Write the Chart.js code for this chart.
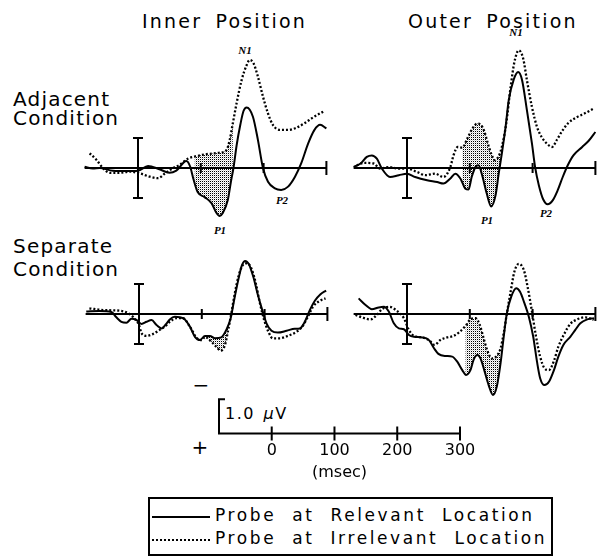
<!DOCTYPE html>
<html>
<head>
<meta charset="utf-8">
<script src="https://cdn.jsdelivr.net/npm/chart.js@4.4.0/dist/chart.umd.min.js"></script>
<style>
  html, body { margin: 0; padding: 0; background: #fff; }
  #page { position: relative; width: 602px; height: 558px; overflow: hidden;
          font-family: "DejaVu Sans", sans-serif; color: #000; }
  #page canvas, .txt { position: absolute; }
  .txt { line-height: 1; white-space: nowrap; }
  .title { font-size: 19px; letter-spacing: 2.2px; word-spacing: 5px; }
  .row { font-size: 20px; letter-spacing: 1.2px; }
  .peak { font-family: "Liberation Serif", serif; font-style: italic; font-weight: bold;
          font-size: 11px; transform: translate(-50%, -50%); }
  .sign { font-size: 20px; transform: translate(-50%, -50%); }
  #legend { position: absolute; left: 148px; top: 497px; width: 401px; height: 55px;
            border: 2px solid #000; }
  .legRow { position: absolute; left: 0; height: 20px; }
  .legLine { position: absolute; left: 2px; width: 58px; top: 9px; }
  .legText { position: absolute; left: 65px; top: 0; font-size: 17px; letter-spacing: 2.6px;
             word-spacing: 8px; line-height: 1; white-space: nowrap; }
</style>
</head>
<body>
<div id="page">
  <div class="txt title" style="left:142px;top:12px">Inner Position</div>
  <div class="txt title" style="left:408px;top:12px">Outer Position</div>
  <div class="txt row" style="left:13px;top:89px">Adjacent</div>
  <div class="txt row" style="left:13px;top:108px">Condition</div>
  <div class="txt row" style="left:13px;top:236px">Separate</div>
  <div class="txt row" style="left:13px;top:259px">Condition</div>

  <div class="txt peak" style="left:245px;top:50px">N1</div>
  <div class="txt peak" style="left:220px;top:230px">P1</div>
  <div class="txt peak" style="left:282px;top:200px">P2</div>
  <div class="txt peak" style="left:516px;top:32px">N1</div>
  <div class="txt peak" style="left:487px;top:220px">P1</div>
  <div class="txt peak" style="left:546px;top:213px">P2</div>

  <div class="txt sign" style="left:201px;top:385px">&minus;</div>
  <div class="txt sign" style="left:200px;top:447px">+</div>
  <div class="txt" style="left:225px;top:406px;font-size:16px;letter-spacing:1.5px;word-spacing:2px">1.0 <i>&micro;</i>V</div>

  <div id="legend">
    <div class="legRow" style="top:8px">
      <div class="legLine" style="border-top:2px solid #000"></div>
      <div class="legText">Probe at Relevant Location</div>
    </div>
    <div class="legRow" style="top:31px">
      <div class="legLine" style="border-top:2px dotted #000"></div>
      <div class="legText">Probe at Irrelevant Location</div>
    </div>
  </div>
</div>

<script>
// 波形数据 [时间(ms), 电压(µV)]，负值向上
const innerAdjacentRelevant = [[-85,-0.04],[-72,0.02],[-61,0],[-40,0.09],[-19,0.1],[0,0.09],[16,-0.07],[34,0.04],[50,0.16],[61,0.09],[77,-0.23],[83,-0.05],[88,0.35],[95,0.8],[106,0.97],[117,1.17],[125,1.5],[130,1.6],[135,1.5],[143,1.07],[148,0.45],[152,0],[157,-0.75],[163,-1.45],[168,-1.9],[173,-2.02],[183,-1.71],[191,-0.93],[199,0],[207,0.46],[218,0.68],[228,0.73],[239,0.62],[250,0.29],[260,-0.16],[271,-0.82],[281,-1.27],[290,-1.44],[300,-1.32]];
const innerAdjacentIrrelevant = [[-77,-0.49],[-66,-0.27],[-56,0],[-45,0.16],[-29,0.16],[-13,0.12],[3,0.18],[19,0.29],[32,0.34],[43,0.18],[56,0],[66,-0.1],[80,-0.32],[90,-0.38],[109,-0.46],[130,-0.51],[141,-0.6],[146,-0.93],[151,-1.49],[157,-2.16],[165,-2.93],[173,-3.43],[178,-3.6],[184,-3.49],[191,-3.04],[199,-2.38],[207,-1.82],[215,-1.43],[226,-1.27],[239,-1.27],[252,-1.34],[265,-1.49],[279,-1.69],[295,-1.88]];
const outerAdjacentRelevant = [[-85,-0.03],[-74,-0.15],[-64,-0.37],[-56,-0.42],[-48,-0.31],[-40,0.02],[-27,0.3],[-13,0.24],[0,0.19],[13,0.3],[32,0.41],[48,0.47],[58,0.52],[69,0.35],[77,0.19],[85,0.35],[93,0.69],[98,0.72],[103,0.3],[109,-0.03],[114,-0.09],[119,0.19],[127,0.85],[134,1.28],[141,0.91],[146,0.19],[151,-0.48],[157,-1.37],[162,-2.26],[170,-2.95],[177,-3.2],[183,-2.95],[191,-1.92],[199,-0.81],[204,-0.03],[210,0.58],[217,1.05],[224,1.21],[232,1.08],[240,0.74],[248,0.3],[256,-0.09],[265,-0.42],[279,-0.7],[289,-0.9],[300,-1.2]];
const outerAdjacentIrrelevant = [[-80,-0.09],[-69,-0.17],[-53,-0.15],[-43,0.02],[-29,-0.03],[-13,0.02],[0,0.02],[16,0.13],[29,0.24],[45,0.19],[58,0.3],[69,-0.03],[74,-0.42],[81,-0.7],[88,-0.68],[96,-0.98],[104,-1.31],[112,-1.48],[118,-1.43],[123,-1.23],[128,-0.87],[134,-0.48],[140,-0.26],[146,-0.39],[151,-0.7],[158,-1.48],[165,-2.7],[171,-3.53],[178,-3.92],[185,-3.65],[191,-2.92],[199,-2.03],[207,-1.37],[215,-1.01],[223,-0.81],[231,-0.7],[239,-0.95],[247,-1.23],[257,-1.5],[271,-1.7],[284,-1.83],[297,-1.98]];
const innerSeparateRelevant = [[-84,-0.08],[-63,-0.1],[-44,-0.07],[-36,0.11],[-28,0.26],[-20,0.29],[-12,0.16],[-4,0.2],[4,0.33],[12,0.26],[20,0.2],[28,0.37],[36,0.48],[43,0.34],[49,0.18],[57,0.09],[65,0.11],[73,0.18],[81,0.42],[89,0.76],[97,0.87],[105,0.73],[113,0.73],[121,0.81],[131,0.78],[139,0.53],[146,0.14],[151,-0.41],[158,-1.13],[164,-1.63],[169,-1.77],[175,-1.66],[182,-1.24],[190,-0.58],[197,-0.08],[203,0.31],[211,0.56],[221,0.62],[235,0.56],[248,0.49],[256,0.48],[264,0.26],[272,-0.13],[280,-0.44],[289,-0.66],[298,-0.78]];
const innerSeparateIrrelevant = [[-79,-0.19],[-57,-0.13],[-31,-0.11],[-15,0],[-5,0.2],[0,0.37],[4,0.64],[12,0.73],[22,0.67],[33,0.53],[41,0.42],[49,0.26],[60,0.14],[70,0.14],[81,0.42],[92,0.8],[100,0.87],[105,0.76],[115,0.92],[123,1.09],[130,1.22],[137,1.03],[142,0.53],[147,-0.02],[152,-0.63],[159,-1.3],[165,-1.62],[172,-1.69],[179,-1.52],[186,-1.02],[192,-0.41],[199,0.18],[206,0.59],[213,0.81],[224,0.81],[237,0.73],[251,0.59],[260,0.42],[269,0.09],[277,-0.24],[288,-0.44],[297,-0.52]];
const outerSeparateRelevant = [[-77,-0.52],[-66,-0.3],[-56,-0.16],[-45,-0.22],[-37,-0.24],[-29,-0.08],[-21,0.31],[-13,0.48],[-5,0.51],[3,0.7],[11,0.76],[24,0.78],[35,0.87],[43,1.14],[50,1.33],[61,1.4],[72,1.42],[80,1.59],[88,1.87],[94,2.03],[101,1.87],[106,1.53],[112,1.37],[117,1.48],[123,1.87],[130,2.37],[137,2.7],[143,2.42],[149,1.64],[154,0.76],[159,-0.02],[166,-0.58],[174,-0.86],[180,-0.74],[187,-0.36],[194,0.09],[201,0.76],[207,1.59],[212,2.14],[219,2.37],[226,2.26],[234,1.87],[241,1.42],[249,1.03],[260,0.76],[268,0.53],[276,0.31],[287,0.18],[298,0.14]];
const outerSeparateIrrelevant = [[-82,0.03],[-72,0.11],[-58,0.18],[-48,0.03],[-40,-0.16],[-28,-0.24],[-16,-0.1],[-5,0.14],[3,0.53],[11,0.73],[24,0.78],[35,0.87],[44,1.03],[53,0.87],[64,0.78],[74,0.73],[84,0.59],[93,0.4],[101,0.18],[109,0.14],[116,0.37],[122,0.81],[128,1.22],[135,1.48],[142,1.42],[149,1.14],[154,0.64],[159,-0.02],[165,-0.74],[171,-1.41],[178,-1.67],[186,-1.47],[192,-0.91],[199,-0.08],[205,0.7],[212,1.42],[219,1.81],[226,1.87],[234,1.56],[241,1.09],[251,0.64],[260,0.33],[271,0.18],[284,0.11],[297,0.2]];

// 坐标轴刻度 (ms)
const panelTicks = [100, 200, 300];
const scaleTicks = [0, 100, 200, 300];
const shadeWindow = [87, 152];
const axisStart = -85;
const axisEnd = 300;
const calibration = 1.0; // µV

// 比例
const PX_PER_MS = 0.628;
const PX_PER_UV = 30;

// 面板位置: 0 ms 的 x 像素, 基线 y 像素
const panels = [
    { x0: 138, y0: 168, rel: innerAdjacentRelevant, irr: innerAdjacentIrrelevant },
    { x0: 407, y0: 168, rel: outerAdjacentRelevant, irr: outerAdjacentIrrelevant },
    { x0: 139, y0: 314, rel: innerSeparateRelevant, irr: innerSeparateIrrelevant },
    { x0: 407, y0: 314, rel: outerSeparateRelevant, irr: outerSeparateIrrelevant }
];

// 点状阴影图案
function makeStipple() {
    const c = document.createElement('canvas');
    c.width = 2; c.height = 2;
    const g = c.getContext('2d');
    g.fillStyle = '#000';
    g.fillRect(0, 0, 1, 1);
    g.fillStyle = '#d0d0d0';
    g.fillRect(1, 1, 1, 1);
    return g.createPattern(c, 'repeat');
}
const stipple = makeStipple();

const toPoints = arr => arr.map(([x, y]) => ({ x, y }));

// 基线、刻度和校准竖线
const panelAxes = {
    id: 'panelAxes',
    afterDatasetsDraw(chart) {
        const { ctx, scales: { x, y } } = chart;
        const yb = y.getPixelForValue(0);
        ctx.save();
        ctx.strokeStyle = '#000';
        ctx.lineWidth = 2;
        ctx.beginPath();
        ctx.moveTo(x.getPixelForValue(axisStart), yb);
        ctx.lineTo(x.getPixelForValue(axisEnd), yb);
        panelTicks.forEach(t => {
            const px = x.getPixelForValue(t);
            const h = t === axisEnd ? 7 : 5;
            ctx.moveTo(px, yb - h);
            ctx.lineTo(px, yb + h);
        });
        const bx = x.getPixelForValue(0);
        const top = y.getPixelForValue(-calibration);
        const bot = y.getPixelForValue(calibration);
        ctx.moveTo(bx, top); ctx.lineTo(bx, bot);
        ctx.moveTo(bx - 5, top); ctx.lineTo(bx + 5, top);
        ctx.moveTo(bx - 5, bot); ctx.lineTo(bx + 5, bot);
        ctx.stroke();
        ctx.restore();
    }
};

const inShade = c => c.p0.parsed.x >= shadeWindow[0] && c.p1.parsed.x <= shadeWindow[1];

function drawPanel(p) {
    const padL = 70, w = 270, padT = 135, h = 235;
    const canvas = document.createElement('canvas');
    canvas.width = w; canvas.height = h;
    canvas.style.left = (p.x0 - padL) + 'px';
    canvas.style.top = (p.y0 - padT) + 'px';
    document.getElementById('page').appendChild(canvas);

    new Chart(canvas, {
        type: 'line',
        data: {
            datasets: [{
                label: 'Probe at Relevant Location',
                data: toPoints(p.rel),
                borderColor: '#000',
                borderWidth: 2,
                pointRadius: 0,
                cubicInterpolationMode: 'monotone',
                fill: false,
                order: 1
            }, {
                label: 'Probe at Irrelevant Location',
                data: toPoints(p.irr),
                borderColor: '#000',
                borderWidth: 2.3,
                borderDash: [2, 2],
                pointRadius: 0,
                cubicInterpolationMode: 'monotone',
                fill: false,
                order: 2
            }, {
                label: 'shade',
                data: toPoints(p.irr),
                borderWidth: 0,
                pointRadius: 0,
                cubicInterpolationMode: 'monotone',
                backgroundColor: 'rgba(0,0,0,0)',
                fill: 0,
                segment: {
                    backgroundColor: c => inShade(c) ? stipple : 'rgba(0,0,0,0)'
                },
                order: 3
            }]
        },
        options: {
            responsive: false,
            animation: false,
            events: [],
            layout: { padding: 0 },
            plugins: {
                legend: { display: false },
                tooltip: { enabled: false }
            },
            scales: {
                x: { type: 'linear', display: false, min: -padL / PX_PER_MS, max: (w - padL) / PX_PER_MS },
                y: { type: 'linear', display: false, reverse: true, min: -padT / PX_PER_UV, max: (h - padT) / PX_PER_UV }
            }
        },
        plugins: [panelAxes]
    });
}

panels.forEach(drawPanel);

// 比例尺
const scaleBarMarks = {
    id: 'scaleBarMarks',
    afterDraw(chart) {
        const { ctx, scales: { x, y } } = chart;
        const yb = y.getPixelForValue(0);
        const yt = y.getPixelForValue(-calibration);
        const xs = x.getPixelForValue(x.min);
        ctx.save();
        ctx.strokeStyle = '#000';
        ctx.lineWidth = 2;
        ctx.beginPath();
        ctx.moveTo(xs + 6, yt);
        ctx.lineTo(xs, yt);
        ctx.lineTo(xs, yb);
        ctx.lineTo(x.getPixelForValue(axisEnd), yb);
        scaleTicks.forEach(t => {
            const px = x.getPixelForValue(t);
            ctx.moveTo(px, yb - 7);
            ctx.lineTo(px, yb + 7);
        });
        ctx.stroke();
        ctx.restore();
    }
};

(function drawScaleBar() {
    const canvas = document.createElement('canvas');
    canvas.width = 300; canvas.height = 107;
    canvas.style.left = '190px';
    canvas.style.top = '375px';
    document.getElementById('page').appendChild(canvas);
    const font = { family: '"DejaVu Sans", sans-serif', size: 16 };

    new Chart(canvas, {
        type: 'line',
        data: { datasets: [] },
        options: {
            responsive: false,
            animation: false,
            events: [],
            layout: { padding: { left: 29, right: 30, top: 10, bottom: 0 } },
            plugins: { legend: { display: false }, tooltip: { enabled: false } },
            scales: {
                x: {
                    type: 'linear', min: -84, max: axisEnd,
                    afterBuildTicks: s => { s.ticks = scaleTicks.map(v => ({ value: v })); },
                    grid: { display: false, drawTicks: false },
                    border: { display: false },
                    ticks: { color: '#000', font, padding: 8, maxRotation: 0, autoSkip: false },
                    title: { display: true, text: '(msec)', color: '#000', font, padding: 0 }
                },
                y: { type: 'linear', display: false, reverse: true, min: -1.42, max: 0 }
            }
        },
        plugins: [scaleBarMarks]
    });
})();
</script>
</body>
</html>
